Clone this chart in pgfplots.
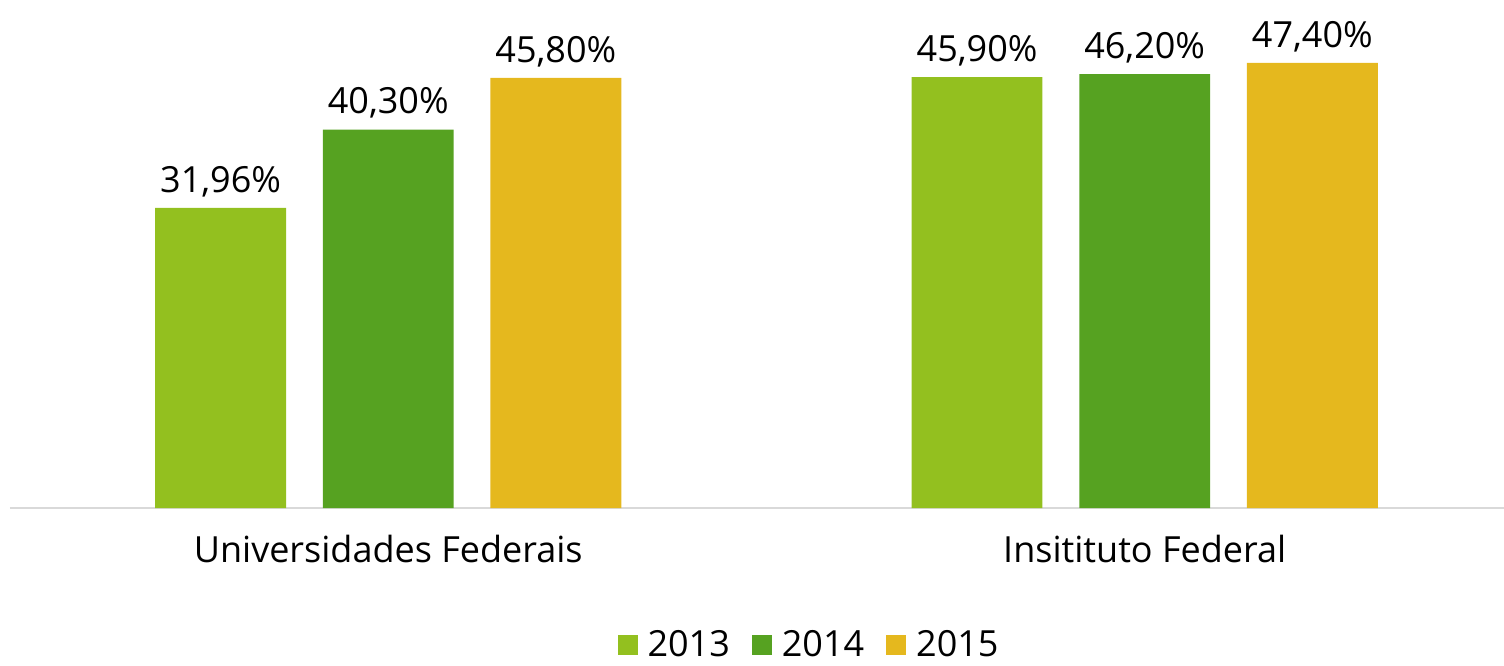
\documentclass[border=0pt]{standalone}
\usepackage{pgfplots}
\pgfplotsset{compat=1.18}
\usepackage{fontspec}
\setmainfont{Open Sans}
\definecolor{c13}{HTML}{93C01F}
\definecolor{c14}{HTML}{56A221}
\definecolor{c15}{HTML}{E5B81E}
\begin{document}
\begin{tikzpicture}
\useasboundingbox (0,0) rectangle (752pt,-332.5pt);
\begin{axis}[at={(5pt,0pt)}, anchor=north west, scale only axis,
  width=747pt, height=254pt,
  ymin=0, ymax=54.1, xmin=-0.5, xmax=1.475,
  axis y line=none, axis x line=bottom, axis line style={-, draw=black!15, line width=1pt},
  xtick={0,1}, xticklabels={Universidades Federais, Insitituto Federal},
  major tick length=0pt,
  xticklabel style={font=\fontsize{18}{22}\selectfont, yshift=-10pt},
  ybar, bar width=0.173,
  /pgf/number format/assume math mode=true,
  nodes near coords={\pgfmathprintnumber[fixed,fixed zerofill,precision=2,use comma]{\pgfplotspointmeta}\%},
  every node near coord/.append style={font=\fontsize{18}{22}\selectfont, black, yshift=2pt},
  legend style={at={(0.5355,-0.27)}, anchor=center, draw=none, fill=none,
    font=\fontsize{18}{22}\selectfont, legend columns=3,
    /tikz/every odd column/.append style={column sep=3pt},
    /tikz/every even column/.append style={column sep=9pt}},
  legend image code/.code={\fill[#1] (0pt,-5pt) rectangle (10pt,5pt);},
]
\addplot[fill=c13, draw=none, bar shift=-0.2216] coordinates {(0,31.96) (1,45.90)};
\addplot[fill=c14, draw=none, bar shift=0] coordinates {(0,40.30) (1,46.20)};
\addplot[fill=c15, draw=none, bar shift=0.2216] coordinates {(0,45.80) (1,47.40)};
\legend{2013,2014,2015}
\end{axis}
\end{tikzpicture}
\end{document}
